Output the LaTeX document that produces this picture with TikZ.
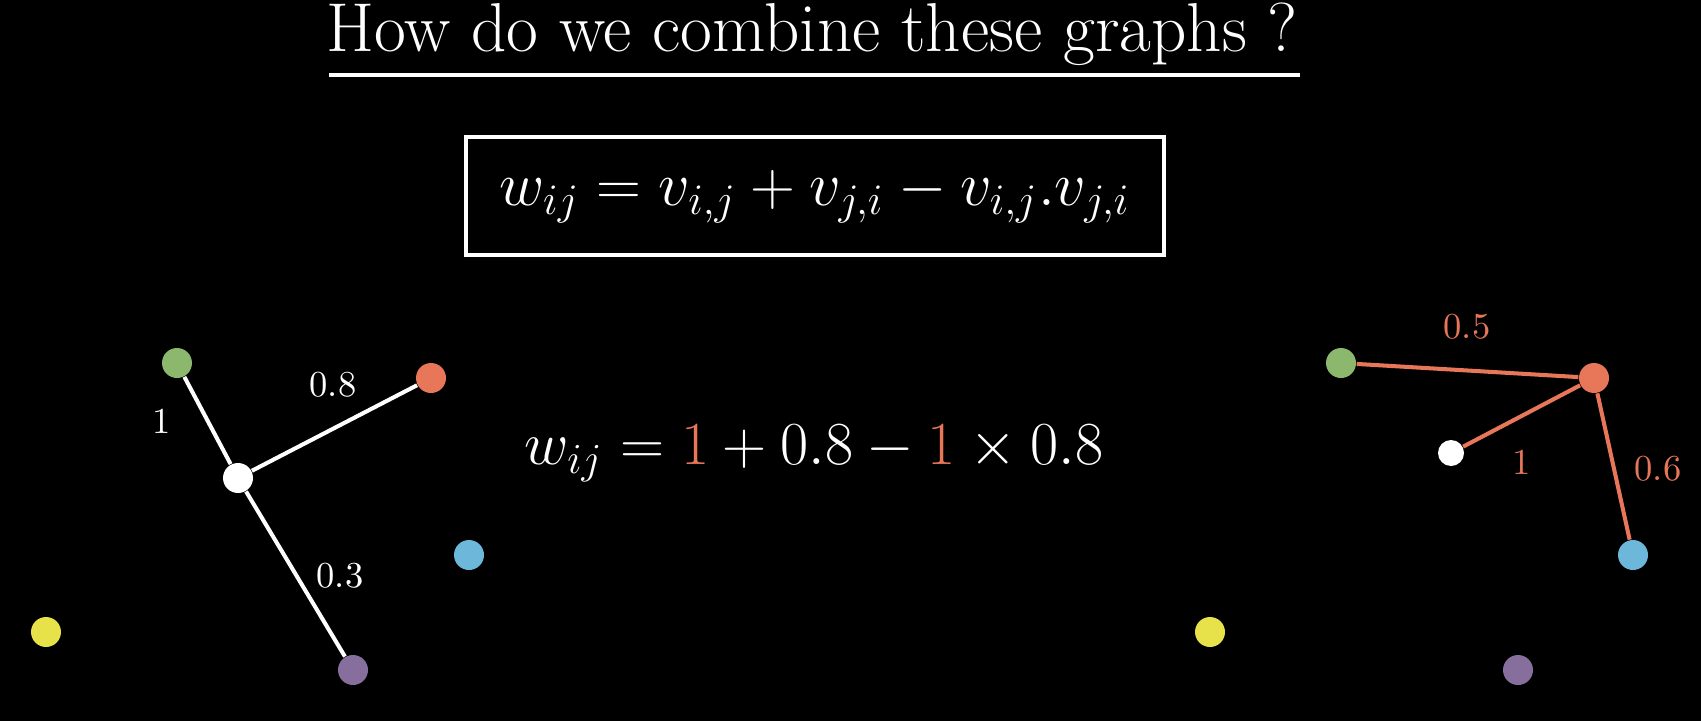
\RequirePackage{fix-cm}
\documentclass[tikz,border=0pt]{standalone}
\usepackage{tikz}
\usetikzlibrary{positioning}
\definecolor{dotgreen}{HTML}{8CB86D}
\definecolor{dotorange}{HTML}{E8775A}
\definecolor{dotblue}{HTML}{6DB7DB}
\definecolor{dotyellow}{HTML}{E7E14A}
\definecolor{dotpurple}{HTML}{876F9D}
\begin{document}
\begin{tikzpicture}[x=0.1mm, y=-0.1mm,
  dot/.style={circle, inner sep=0pt, minimum size=3mm},
  link/.style={line width=1.15pt},
  weight/.style={font=\fontsize{10.4}{12}\selectfont, inner sep=0pt}]
  \fill[black] (0,0) rectangle (1701,721);
  % title
  \node[white, anchor=base, inner sep=0pt, font=\fontsize{19.7}{23}\selectfont] (title) at (812,51) {How do we combine these graphs ?};
  \draw[white, line width=1.3pt] (329,75) -- (1300,75);
  % general rule and the worked example
  \node[draw=white, line width=1.2pt, minimum width=69.8mm, minimum height=11.8mm, text=white, font=\fontsize{17.7}{21}\selectfont] (rule) at (815,196) {$w_{ij} = v_{i,j} + v_{j,i} - v_{i,j}.v_{j,i}$};
  \node[white, anchor=base, inner sep=0pt, font=\fontsize{17.4}{20}\selectfont] (example) at (814,464) {$w_{ij} = \textcolor{dotorange}{1} + 0.8 - \textcolor{dotorange}{1} \times 0.8$};
  % left graph
  \node[dot, fill=white] (li) at (238,478) {};
  \node[dot, fill=dotgreen] (lg) at (177,363) {};
  \node[dot, fill=dotorange] (lo) at (431,378) {};
  \node[dot, fill=dotblue] (lb) at (469,555) {};
  \node[dot, fill=dotyellow] (ly) at (46,632) {};
  \node[dot, fill=dotpurple] (lp) at (353,670) {};
  \draw[white, link] (li) -- (lg);
  \draw[white, link] (li) -- (lo);
  \draw[white, link] (li) -- (lp);
  \node[weight, white] (wlg) at (162,421) {1};
  \node[weight, white] (wlo) at (333,385) {0.8};
  \node[weight, white] (wlp) at (340,576) {0.3};
  % right graph
  \node[dot, fill=white, minimum size=2.6mm] (ri) at (1451,453) {};
  \node[dot, fill=dotgreen] (rg) at (1341,363) {};
  \node[dot, fill=dotorange] (ro) at (1594,378) {};
  \node[dot, fill=dotblue] (rb) at (1633,555) {};
  \node[dot, fill=dotyellow] (ry) at (1210,632) {};
  \node[dot, fill=dotpurple] (rp) at (1518,670) {};
  \draw[dotorange, link] (ro) -- (rg);
  \draw[dotorange, link] (ro) -- (ri);
  \draw[dotorange, link] (ro) -- (rb);
  \node[weight, dotorange] (wrg) at (1467,327) {0.5};
  \node[weight, dotorange] (wri) at (1522,462) {1};
  \node[weight, dotorange] (wrb) at (1658,469) {0.6};
\end{tikzpicture}
\end{document}
